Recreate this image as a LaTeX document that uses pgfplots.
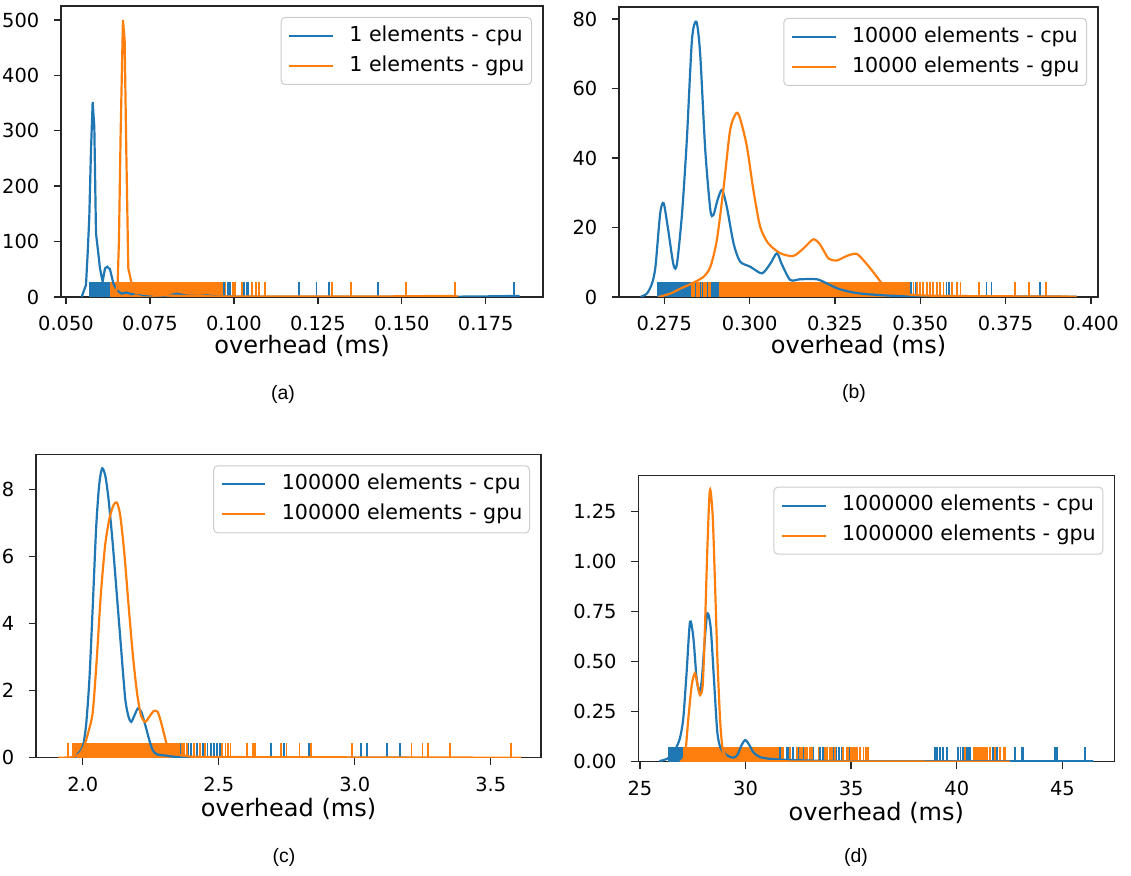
\documentclass[border=0pt]{standalone}
\usepackage{fontspec}
\setmainfont{DejaVu Sans}
\newfontfamily\capfont{Liberation Sans}
\usepackage{pgfplots}
\pgfplotsset{compat=1.18}
\definecolor{mplblue}{HTML}{1F77B4}
\definecolor{mplorange}{HTML}{FF7F0E}

\pgfplotsset{
  panel/.style={
    scale only axis, anchor=south west,
    axis line style={black!85, line width=0.7pt},
    tick align=outside, xtick pos=bottom, ytick pos=left,
    major tick length=3.5pt,
    every tick/.style={black!85, line width=0.7pt},
    ymin=0, scaled ticks=false,
    /pgf/number format/assume math mode=true,
    tick label style={font=\fontsize{9.7}{11}\selectfont, inner sep=0pt},
    xticklabel style={anchor=center, yshift=-9.85pt},
    yticklabel style={anchor=east, xshift=-7.2pt},
    xlabel={overhead (ms)},
    every axis x label/.style={at={(axis description cs:0.5,0)}, anchor=center, yshift=-24.5pt, font=\fontsize{12}{14}\selectfont},
    legend style={at={(1,1)}, anchor=north east, xshift=-5.5pt, yshift=-5.5pt,
      draw=black!20, line width=0.5pt, rounded corners=2pt, fill=white, fill opacity=0.8, text opacity=1,
      font=\fontsize{10.3}{12}\selectfont, inner xsep=3.5pt, inner ysep=4pt, row sep=4.5pt,
      nodes={inner xsep=0pt, inner ysep=0pt, text height=7.8pt, text depth=2.7pt},
      /tikz/every odd column/.append style={column sep=7.7pt}},
    legend cell align=left,
    legend image code/.code={\draw[#1, line width=1.1pt, sharp plot] (0pt,0pt) -- (21.8pt,0pt);},
  },
  kde/.style={line width=1.1pt, no markers, draw=#1},
  skde/.style={line width=1.1pt, no markers, draw=#1, smooth, tension=0.45},
  rug/.style={ycomb, no markers, line width=0.9pt, forget plot, draw=#1},
  rugblock/.style={fill=#1, draw=none, no markers, forget plot},
}

\begin{document}
\begin{tikzpicture}
\path[use as bounding box] (0,0) rectangle (565.5pt,438pt);

% (a) 1 element
\begin{axis}[panel, at={(30.5pt,289.5pt)}, width=241pt, height=145.5pt,
  xmin=0.04851, xmax=0.19205, ymax=525.3,
  xtick={0.05,0.075,0.1,0.125,0.15,0.175}, ytick={0,100,200,300,400,500},
  xticklabel style={/pgf/number format/fixed, /pgf/number format/fixed zerofill, /pgf/number format/precision=3}]
\addplot[rugblock=mplblue] coordinates {(0.05694,0)(0.0631,0)(0.0631,26.27)(0.05694,26.27)};
\addplot[rug=mplblue] coordinates {(0.0970,26.27)(0.0983,26.27)(0.0989,26.27)(0.1030,26.27)(0.1038,26.27)(0.1043,26.27)(0.1193,26.27)(0.1246,26.27)(0.1284,26.27)(0.1429,26.27)(0.1833,26.27)};
\addplot[rugblock=mplorange] coordinates {(0.0631,0)(0.09633,0)(0.09633,26.27)(0.0631,26.27)};
\addplot[rug=mplorange] coordinates {(0.0965,26.27)(0.0975,26.27)(0.0998,26.27)(0.1004,26.27)(0.1025,26.27)(0.1053,26.27)(0.1065,26.27)(0.1075,26.27)(0.1092,26.27)(0.1291,26.27)(0.1348,26.27)(0.1512,26.27)(0.1658,26.27)};
\addplot[kde=mplblue] coordinates {(0.05466,0)(0.05595,21.7)(0.05645,78.8)(0.05694,145)(0.05744,265)(0.05794,352)(0.05843,307)(0.05893,115)(0.05962,78.8)(0.06012,51.7)(0.06091,27.7)(0.06161,51.7)(0.0623,54.7)(0.0631,50)(0.06409,24.7)(0.06508,12.6)(0.06657,6)(0.06806,8)(0.06954,5)(0.07103,7)(0.07302,3)(0.07699,3.5)(0.07996,1.8)(0.08294,6)(0.08591,2.4)(0.08988,1.8)(0.09187,3)(0.09484,1)(0.1046,0.5)(0.1643,0.5)(0.1742,1)(0.1851,2)};
\addlegendentry{1 elements - cpu}
\addplot[kde=mplorange] coordinates {(0.06458,0)(0.06538,24.7)(0.06577,103)(0.06627,295)(0.06696,500)(0.06746,464)(0.06795,265)(0.06855,51.7)(0.06954,24.7)(0.07054,8)(0.07302,6)(0.07699,3.5)(0.08492,1.8)(0.09484,1)(0.14444,1)(0.16528,2)(0.16677,0.5)};
\addlegendentry{1 elements - gpu}
\end{axis}

% (b) 10000 elements
\begin{axis}[panel, at={(309.5pt,289.5pt)}, width=239.5pt, height=145pt,
  xmin=0.26172, xmax=0.4021, ymax=83.45,
  xtick={0.275,0.3,0.325,0.35,0.375,0.4}, ytick={0,20,40,60,80},
  xticklabel style={/pgf/number format/fixed, /pgf/number format/fixed zerofill, /pgf/number format/precision=3}]
\addplot[rugblock=mplblue] coordinates {(0.2729,0)(0.2909,0)(0.2909,4.17)(0.2729,4.17)};
\addplot[rug=mplblue] coordinates {(0.3473,4.17)(0.3487,4.17)(0.3577,4.17)(0.3585,4.17)(0.3694,4.17)(0.3709,4.17)(0.3851,4.17)};
\addplot[rugblock=mplorange] coordinates {(0.2909,0)(0.3470,0)(0.3470,4.17)(0.2909,4.17)};
\addplot[rug=mplorange] coordinates {(0.2831,4.17)(0.2838,4.17)(0.2845,4.17)(0.2852,4.17)(0.2859,4.17)(0.2866,4.17)(0.2873,4.17)(0.2880,4.17)(0.2885,4.17)(0.3480,4.17)(0.3490,4.17)(0.3499,4.17)(0.3509,4.17)(0.3519,4.17)(0.3529,4.17)(0.3538,4.17)(0.3548,4.17)(0.3558,4.17)(0.3568,4.17)(0.3592,4.17)(0.3607,4.17)(0.3618,4.17)(0.3672,4.17)(0.3777,4.17)(0.3818,4.17)(0.3868,4.17)};
\addplot[skde=mplblue] coordinates {(0.2680,0)(0.2699,1.0)(0.2714,3.9)(0.2724,8.7)(0.2738,24.1)(0.2748,27.0)(0.2760,20.2)(0.2777,9.2)(0.2787,9.5)(0.2802,24.1)(0.2816,45.2)(0.2831,74)(0.2844,79.2)(0.2855,70.1)(0.2870,42.3)(0.2885,25.0)(0.2894,23.6)(0.2906,27.9)(0.2919,30.8)(0.2933,26.0)(0.2953,15.4)(0.2972,10.2)(0.3002,8.7)(0.3036,6.8)(0.3060,9.5)(0.3080,12.6)(0.3094,9.5)(0.3119,4.9)(0.3148,5.1)(0.3197,5.1)(0.3226,3.9)(0.3265,2.2)(0.3324,1.0)(0.3431,0.3)(0.3577,0.2)(0.3958,0.1)};
\addlegendentry{10000 elements - cpu}
\addplot[skde=mplorange] coordinates {(0.2733,0)(0.2768,1.0)(0.2797,2.4)(0.2831,3.9)(0.2865,5.8)(0.2885,8.7)(0.2904,16.4)(0.2924,31.7)(0.2943,48.1)(0.2961,52.9)(0.2972,51.4)(0.2992,43.3)(0.3011,30.8)(0.3031,20.2)(0.3055,15.4)(0.3090,12.6)(0.3128,11.8)(0.3158,14.0)(0.3187,16.6)(0.3207,15.0)(0.3231,11.1)(0.3255,10.5)(0.3285,11.8)(0.3314,12.4)(0.3343,9.5)(0.3373,5.8)(0.3392,3.5)(0.3431,1.3)(0.3480,0.6)(0.3577,0.3)(0.3958,0.1)};
\addlegendentry{10000 elements - gpu}
\end{axis}

% (c) 100000 elements
\begin{axis}[panel, at={(18pt,59.15pt)}, width=252.5pt, height=151.7pt,
  xmin=1.828, xmax=3.685, ymax=9.06,
  xtick={2,2.5,3,3.5}, ytick={0,2,4,6,8},
  every axis x label/.append style={yshift=-1pt},
  xticklabel style={/pgf/number format/fixed, /pgf/number format/fixed zerofill, /pgf/number format/precision=1}]
\addplot[rugblock=mplblue] coordinates {(2.0,0)(2.36,0)(2.36,0.453)(2.0,0.453)};
\addplot[rug=mplblue] coordinates {(2.389,0.453)(2.398,0.453)(2.420,0.453)(2.442,0.453)(2.459,0.453)(2.472,0.453)(2.482,0.453)(2.494,0.453)(2.504,0.453)(2.693,0.453)(2.740,0.453)(2.832,0.453)(3.022,0.453)(3.044,0.453)(3.120,0.453)(3.166,0.453)};
\addplot[rugblock=mplorange] coordinates {(1.968,0)(2.356,0)(2.356,0.453)(1.968,0.453)};
\addplot[rug=mplorange] coordinates {(1.9447,0.453)(1.963,0.453)(2.3649,0.453)(2.3735,0.453)(2.3833,0.453)(2.4079,0.453)(2.4324,0.453)(2.4509,0.453)(2.512,0.453)(2.525,0.453)(2.533,0.453)(2.543,0.453)(2.604,0.453)(2.625,0.453)(2.633,0.453)(2.730,0.453)(2.749,0.453)(2.797,0.453)(2.838,0.453)(2.989,0.453)(3.209,0.453)(3.249,0.453)(3.270,0.453)(3.350,0.453)(3.575,0.453)};
\addplot[skde=mplblue] coordinates {(1.9717,0)(1.984,0.13)(2.000,0.33)(2.0123,0.98)(2.0246,2.37)(2.0369,4.56)(2.0491,6.85)(2.0602,8.14)(2.0713,8.64)(2.0835,8.39)(2.0958,7.64)(2.1106,6.35)(2.1253,4.86)(2.1400,3.36)(2.1560,1.77)(2.1683,1.22)(2.1781,1.07)(2.1904,1.27)(2.2027,1.47)(2.2150,1.37)(2.2297,0.98)(2.2445,0.53)(2.2568,0.23)(2.2727,0.10)(2.3096,0.06)(2.3464,0.02)(2.45,0)(3.2,0)};
\addlegendentry{100000 elements - cpu}
\addplot[skde=mplorange] coordinates {(1.9103,0)(1.9533,0.01)(1.984,0.08)(2.0025,0.28)(2.0209,0.78)(2.0369,1.37)(2.0516,2.97)(2.0663,4.86)(2.0823,6.35)(2.0983,7.15)(2.1130,7.54)(2.1253,7.62)(2.1376,7.24)(2.1523,6.15)(2.1683,4.56)(2.1843,3.06)(2.1990,1.97)(2.2137,1.27)(2.2297,1.07)(2.2445,1.22)(2.2604,1.39)(2.2752,1.37)(2.2875,1.07)(2.2998,0.68)(2.3120,0.33)(2.3342,0.13)(2.3833,0.05)(2.5061,0.02)(3.6118,0)};
\addlegendentry{100000 elements - gpu}
\end{axis}

% (d) 1000000 elements
\begin{axis}[panel, at={(319.15pt,57.15pt)}, width=238pt, height=143pt,
  xmin=24.92, xmax=47.46, ymax=1.43,
  xtick={25,30,35,40,45}, ytick={0,0.25,0.5,0.75,1,1.25},
  every axis x label/.append style={yshift=-1pt},
  yticklabel style={/pgf/number format/fixed, /pgf/number format/fixed zerofill, /pgf/number format/precision=2}]
\addplot[rugblock=mplblue] coordinates {(26.34,0)(27.02,0)(27.02,0.0715)(26.34,0.0715)};
\addplot[rug=mplblue] coordinates {(31.63,0.0715)(31.95,0.0715)(32.02,0.0715)(32.26,0.0715)(32.53,0.0715)(32.73,0.0715)(33.21,0.0715)(33.52,0.0715)(33.65,0.0715)(34.16,0.0715)(34.28,0.0715)(34.44,0.0715)(34.55,0.0715)(34.91,0.0715)(35.10,0.0715)(38.97,0.0715)(39.05,0.0715)(39.21,0.0715)(39.36,0.0715)(39.52,0.0715)(40.07,0.0715)(40.18,0.0715)(40.31,0.0715)(40.47,0.0715)(40.55,0.0715)(40.63,0.0715)(41.10,0.0715)(41.73,0.0715)(41.89,0.0715)(42.76,0.0715)(43.07,0.0715)(43.15,0.0715)(44.65,0.0715)(44.73,0.0715)(46.07,0.0715)};
\addplot[rugblock=mplorange] coordinates {(27.02,0)(31.47,0)(31.47,0.0715)(27.02,0.0715)};
\addplot[rugblock=mplorange] coordinates {(40.75,0)(41.50,0)(41.50,0.0715)(40.75,0.0715)};
\addplot[rug=mplorange] coordinates {(31.55,0.0715)(31.71,0.0715)(31.79,0.0715)(32.10,0.0715)(32.42,0.0715)(32.58,0.0715)(32.66,0.0715)(32.81,0.0715)(32.89,0.0715)(33.05,0.0715)(33.15,0.0715)(33.45,0.0715)(33.76,0.0715)(33.84,0.0715)(34.00,0.0715)(34.08,0.0715)(34.23,0.0715)(34.63,0.0715)(34.79,0.0715)(34.87,0.0715)(34.98,0.0715)(35.07,0.0715)(35.18,0.0715)(35.26,0.0715)(35.42,0.0715)(35.58,0.0715)(35.70,0.0715)(35.78,0.0715)(40.40,0.0715)(41.57,0.0715)(41.80,0.0715)(42.05,0.0715)(42.21,0.0715)(42.28,0.0715)};
\addplot[skde=mplblue] coordinates {(25.92,0.003)(26.26,0.013)(26.50,0.033)(26.70,0.067)(26.89,0.117)(27.05,0.217)(27.21,0.45)(27.37,0.70)(27.53,0.617)(27.68,0.417)(27.81,0.35)(27.92,0.40)(28.05,0.583)(28.19,0.742)(28.35,0.667)(28.50,0.417)(28.66,0.15)(28.82,0.067)(29.10,0.033)(29.42,0.02)(29.61,0.033)(29.81,0.083)(29.99,0.108)(30.18,0.083)(30.37,0.047)(30.68,0.023)(31.31,0.013)(32.58,0.007)(35.73,0.002)(46.47,0.002)};
\addlegendentry{1000000 elements - cpu}
\addplot[skde=mplorange] coordinates {(26.89,0)(27.13,0.033)(27.29,0.217)(27.45,0.383)(27.60,0.442)(27.73,0.383)(27.84,0.333)(27.97,0.383)(28.08,0.683)(28.19,1.067)(28.31,1.358)(28.44,1.233)(28.55,0.90)(28.66,0.533)(28.79,0.217)(28.91,0.067)(29.10,0.017)(29.42,0.003)(42.52,0)};
\addlegendentry{1000000 elements - gpu}
\end{axis}

\node[font=\capfont\fontsize{9.7}{11}\selectfont] at (141.5pt,241pt) {(a)};
\node[font=\capfont\fontsize{9.7}{11}\selectfont] at (427pt,241.5pt) {(b)};
\node[font=\capfont\fontsize{9.7}{11}\selectfont] at (142pt,9.5pt) {(c)};
\node[font=\capfont\fontsize{9.7}{11}\selectfont] at (428pt,9.5pt) {(d)};
\end{tikzpicture}
\end{document}
